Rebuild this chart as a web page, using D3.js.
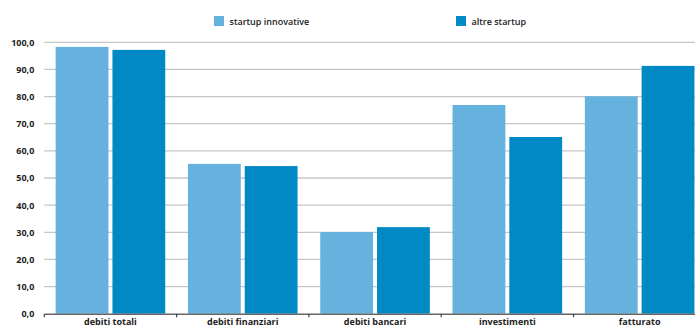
<!DOCTYPE html>
<html><head><meta charset="utf-8">
<script src="https://cdn.jsdelivr.net/npm/d3@7"></script>
<style>html,body{margin:0;padding:0;background:#fff;overflow:hidden}</style>
</head><body>
<svg id="c" width="695" height="329"></svg>
<script>
const categories = ["debiti totali","debiti finanziari","debiti bancari","investimenti","fatturato"];
const seriesNames = ["startup innovative","altre startup"];
const innovative = [98.3, 55.2, 30.1, 76.9, 80.1];
const altre = [97.2, 54.4, 31.9, 65.1, 91.3];
const yTicks = [0,10,20,30,40,50,60,70,80,90,100];
const colors = ["#65b2de","#0089c4"];

const svg = d3.select("#c");
const font = "'Open Sans', 'Liberation Sans', sans-serif";
const x0 = 44.3, x1 = 705.8, yTop = 42.3, yBot = 313.7;
const x = d3.scaleBand().domain(categories).range([x0, x1]).paddingInner(0).paddingOuter(0);
const y = d3.scaleLinear().domain([0,100]).range([yBot, yTop]);
const xs = d3.scaleBand().domain(seriesNames).range([0, x.bandwidth()]).paddingInner(0.07).paddingOuter(0.2);

// gridlines
svg.append("g").selectAll("line").data(yTicks.filter(d=>d>0)).join("line")
  .attr("x1", x0).attr("x2", 695).attr("y1", d=>y(d)).attr("y2", d=>y(d))
  .attr("stroke", "#c6c6c6").attr("stroke-width", 1.3);

// y labels
const yAxis = d3.axisLeft(y).tickValues(yTicks).tickSize(0).tickPadding(10)
  .tickFormat(d => d3.format(".1f")(d).replace(".", ","));
const gy = svg.append("g").attr("transform", `translate(${x0},0)`).call(yAxis);
gy.select(".domain").remove();
gy.selectAll("text").attr("font-family", font).attr("font-weight", "bold").attr("font-size", 9).attr("fill","#222");

// bars
const data = [innovative, altre];
seriesNames.forEach((s, si) => {
  svg.append("g").selectAll("rect").data(categories).join("rect")
    .attr("x", c => x(c) + xs(s))
    .attr("width", xs.bandwidth())
    .attr("y", (c,i) => y(data[si][i]))
    .attr("height", (c,i) => yBot - y(data[si][i]))
    .attr("fill", colors[si]);
});

// x axis
const xAxis = d3.axisBottom(x).tickSize(0).tickPadding(5);
const gx = svg.append("g").attr("transform", `translate(0,${yBot})`).call(xAxis);
gx.select(".domain").attr("stroke", "#666").attr("stroke-width", 1.5);
gx.selectAll("text").attr("font-family", font).attr("font-weight", "bold").attr("font-size", 9).attr("fill","#222");
// category boundary ticks
svg.append("g").selectAll("line").data(categories).join("line")
  .attr("x1", c => x(c)).attr("x2", c => x(c))
  .attr("y1", yBot).attr("y2", yBot + 3.5)
  .attr("stroke", "#444").attr("stroke-width", 1.2);

// legend
const legX = [214, 456];
const leg = svg.append("g").selectAll("g").data(seriesNames).join("g")
  .attr("transform", (d,i) => `translate(${legX[i]},16)`);
leg.append("rect").attr("width", 10).attr("height", 10).attr("fill", (d,i)=>colors[i]);
leg.append("text").attr("x", 15.5).attr("y", 8.5).text(d=>d)
  .attr("font-family", font).attr("font-weight", 600).attr("font-size", 9).attr("fill","#222");
</script>
</body></html>
